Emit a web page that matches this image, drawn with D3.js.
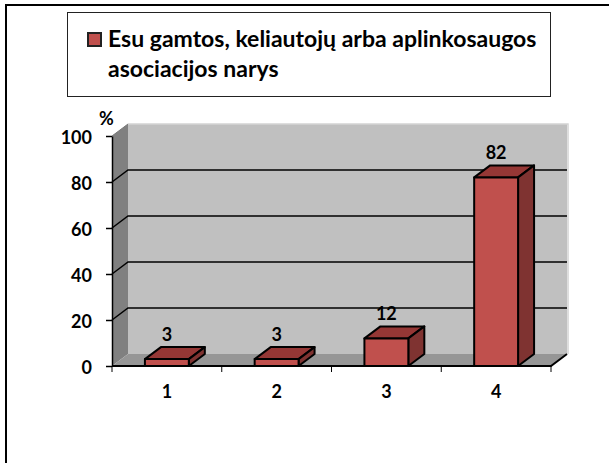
<!DOCTYPE html>
<meta charset="utf-8">
<head>
<script src="https://d3js.org/d3.v7.min.js"></script>
</head>
<style>
  body { margin: 0; background: #fff; font-family: Lato, sans-serif; }
  text { font-family: Lato, sans-serif; font-weight: bold; fill: #000; }
</style>
<body>
<script>
var categories = ["1", "2", "3", "4"];
var values = [3, 3, 12, 82];
var yTicks = [0, 20, 40, 60, 80, 100];
var legendLines = ["Esu gamtos, keliautojų arba aplinkosaugos", "asociacijos narys"];

var width = 609, height = 463;
var dx = 16, dy = -12;   // depth of the 3d box

var svg = d3.select("body").append("svg")
    .attr("width", width)
    .attr("height", height)
    .style("display", "block");

// page frame
svg.append("path")
    .attr("d", "M6,463V5H609")
    .attr("fill", "none")
    .attr("stroke", "#000")
    .attr("stroke-width", 2);

// legend box
svg.append("rect")
    .attr("x", 67.5).attr("y", 12.5)
    .attr("width", 483).attr("height", 84)
    .attr("fill", "#fff")
    .attr("stroke", "#222");

svg.append("rect")
    .attr("x", 88).attr("y", 33)
    .attr("width", 13).attr("height", 13)
    .attr("fill", "#c0504d")
    .attr("stroke", "#222")
    .attr("stroke-width", 2);

svg.selectAll(".legend-line")
    .data(legendLines)
  .enter().append("text")
    .attr("x", 108)
    .attr("y", function(d, i) { return 47 + i * 30; })
    .style("font-size", "23px")
    .text(function(d) { return d; });

var x = d3.scaleBand().domain(categories).range([112, 551]).paddingInner(0.6).paddingOuter(0.3);
var y = d3.scaleLinear().domain([0, 100]).range([366, 136]);

// side wall, floor, back wall
svg.append("path")
    .attr("d", "M" + x.range()[0] + "," + y(0) + "V" + y(100) + "l" + dx + "," + dy + "V" + (y(0) + dy) + "Z")
    .attr("fill", "#808080");
svg.append("path")
    .attr("d", "M" + x.range()[0] + "," + y(0) + "H" + x.range()[1] + "l" + dx + "," + dy + "H" + (x.range()[0] + dx) + "Z")
    .attr("fill", "#969696");
svg.append("rect")
    .attr("x", x.range()[0] + dx)
    .attr("y", y(100) + dy)
    .attr("width", x.range()[1] - x.range()[0])
    .attr("height", y(0) - y(100))
    .attr("fill", "#c0c0c0");
svg.append("path")
    .attr("d", "M" + (x.range()[0] + dx) + "," + (y(100) + dy) + "H" + (x.range()[1] + dx + 1) + "V" + (y(0) + dy))
    .attr("fill", "none")
    .attr("stroke", "#d4d4d4")
    .attr("stroke-width", 1.5);

// gridlines
svg.selectAll(".grid")
    .data(yTicks.filter(function(d) { return d > 0 && d < 100; }))
  .enter().append("path")
    .attr("d", function(d) {
      return "M" + x.range()[0] + "," + y(d) + "l" + dx + "," + dy + "H" + (x.range()[1] + dx);
    })
    .attr("fill", "none")
    .attr("stroke", "#000")
    .attr("stroke-width", 1.5);

// axes
var yAxis = svg.append("g")
    .attr("transform", "translate(" + x.range()[0] + ",0)")
    .call(d3.axisLeft(y).tickValues(yTicks).tickSize(6).tickPadding(14).tickSizeOuter(0));
yAxis.selectAll("text").style("font-size", "18px").style("font-family", "Lato").attr("dy", "0.43em");
yAxis.selectAll("path,line").attr("stroke", "#000").attr("stroke-width", 1.5);

var xPos = d3.scaleLinear().domain([0, 4]).range(x.range());
var xAxis = svg.append("g")
    .attr("transform", "translate(0," + y(0) + ")");
xAxis.append("path")
    .attr("d", "M" + x.range()[0] + ",0H" + x.range()[1] + "l" + dx + "," + dy)
    .attr("fill", "none").attr("stroke", "#000").attr("stroke-width", 2);
xAxis.selectAll("line")
    .data(d3.range(5))
  .enter().append("line")
    .attr("x1", xPos).attr("x2", xPos)
    .attr("y1", 0).attr("y2", 6)
    .attr("stroke", "#000");
xAxis.selectAll("text")
    .data(categories)
  .enter().append("text")
    .attr("x", function(d) { return x(d) + x.bandwidth() / 2; })
    .attr("y", 32)
    .attr("text-anchor", "middle")
    .style("font-size", "18px")
    .text(function(d) { return d; });

// back corner on the left
svg.append("path")
    .attr("d", "M" + x.range()[0] + "," + y(100) + "l" + dx + "," + dy)
    .attr("fill", "none").attr("stroke", "#777").attr("stroke-width", 1);

// bars
var bars = svg.selectAll(".bar")
    .data(values)
  .enter().append("g")
    .attr("class", "bar");

function bx(i) { return x(categories[i]); }

bars.append("path")   // top
    .attr("d", function(d, i) {
      return "M" + bx(i) + "," + y(d) + "l" + dx + "," + dy + "h" + x.bandwidth() + "l" + (-dx) + "," + (-dy) + "Z";
    })
    .attr("fill", "#953735");
bars.append("path")   // side
    .attr("d", function(d, i) {
      return "M" + (bx(i) + x.bandwidth()) + "," + y(d) + "l" + dx + "," + dy + "V" + (y(0) + dy) + "l" + (-dx) + "," + (-dy) + "Z";
    })
    .attr("fill", "#7f3331");
bars.append("rect")   // front
    .attr("x", function(d, i) { return bx(i); })
    .attr("y", function(d) { return y(d); })
    .attr("width", x.bandwidth())
    .attr("height", function(d) { return y(0) - y(d); })
    .attr("fill", "#c0504d");
bars.selectAll("path,rect")
    .attr("stroke", "#000")
    .attr("stroke-width", 2)
    .attr("stroke-linejoin", "round");

// value labels
svg.selectAll(".value")
    .data(values)
  .enter().append("text")
    .attr("x", function(d, i) { return bx(i) + x.bandwidth() / 2; })
    .attr("y", function(d) { return y(d) - 18; })
    .attr("text-anchor", "middle")
    .style("font-size", "18px")
    .text(function(d) { return d; });

svg.append("text")
    .attr("x", 99).attr("y", 125)
    .style("font-size", "18px")
    .text("%");
</script>
</body>
</html>
